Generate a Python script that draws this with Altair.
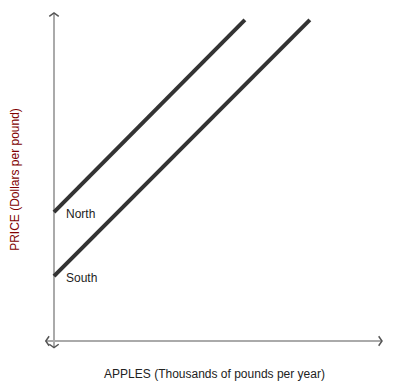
import altair as alt
import pandas as pd

# Line endpoints (x: apples, y: price), in data units
series = ["North", "North", "South", "South"]
xs = [0.0, 5.82, 0.0, 7.8]
ys = [3.93, 9.79, 1.98, 9.79]

label_names = ["North", "South"]
label_x = [0.0, 0.0]
label_y = [3.93, 1.98]

# Axis lines and arrowheads
axis_x = [0.0, 0.0, -0.25, 10.0]
axis_y = [-0.2, 10.0, 0.0, 0.0]
axis_id = ["v", "v", "h", "h"]
arrow_x = [0.0, 10.0, -0.25, 0.0]
arrow_y = [10.0, 0.0, 0.0, -0.2]
arrow_angle = [0, 90, 270, 180]

lines_df = pd.DataFrame({"series": series, "x": xs, "y": ys})
labels_df = pd.DataFrame({"name": label_names, "x": label_x, "y": label_y})
axis_df = pd.DataFrame({"id": axis_id, "x": axis_x, "y": axis_y})
arrow_df = pd.DataFrame({"x": arrow_x, "y": arrow_y, "angle": arrow_angle})

xscale = alt.Scale(domain=[0, 10], nice=False, zero=False)
yscale = alt.Scale(domain=[0, 10], nice=False, zero=False)

xaxis = alt.Axis(domain=False, ticks=False, labels=False, grid=False,
                 title="APPLES (Thousands of pounds per year)",
                 titleFont="Liberation Sans", titleFontSize=12, titleFontWeight="normal",
                 titleColor="#222222", titleX=160, titleY=32, titleBaseline="middle",
                 titleAlign="center")
yaxis = alt.Axis(domain=False, ticks=False, labels=False, grid=False,
                 title="PRICE (Dollars per pound)",
                 titleFont="Liberation Sans", titleFontSize=12, titleFontWeight="normal",
                 titleColor="#800000", titleX=-40, titleY=166, titleAngle=270,
                 titleBaseline="middle", titleAlign="center")

axes = alt.Chart(axis_df).mark_line(color="#aaaaaa", strokeWidth=2).encode(
    x=alt.X("x:Q", scale=xscale, axis=xaxis),
    y=alt.Y("y:Q", scale=yscale, axis=yaxis),
    detail="id:N",
)

arrows = alt.Chart(arrow_df).mark_point(
    shape="M-1,0.7L0,0L1,0.7", size=90, filled=False, color="#555555", strokeWidth=1.5, opacity=1
).encode(
    x=alt.X("x:Q", scale=xscale),
    y=alt.Y("y:Q", scale=yscale),
    angle=alt.Angle("angle:Q", scale=None),
)

lines = alt.Chart(lines_df).mark_line(color="#333333", strokeWidth=4, strokeCap="butt").encode(
    x=alt.X("x:Q", scale=xscale),
    y=alt.Y("y:Q", scale=yscale),
    detail="series:N",
)

labels = alt.Chart(labels_df).mark_text(
    align="left", baseline="middle", dx=12, dy=2, font="Liberation Sans", fontSize=12, color="#222222"
).encode(
    x=alt.X("x:Q", scale=xscale),
    y=alt.Y("y:Q", scale=yscale),
    text="name:N",
)

chart = alt.layer(axes, lines, arrows, labels).properties(
    width=328, height=328,
    autosize=alt.AutoSizeParams(type="none"),
    padding={"left": 46, "top": 5, "right": 12, "bottom": 42},
).configure_view(stroke=None)

chart.save("out.html", embed_options={"renderer": "svg", "actions": False})
